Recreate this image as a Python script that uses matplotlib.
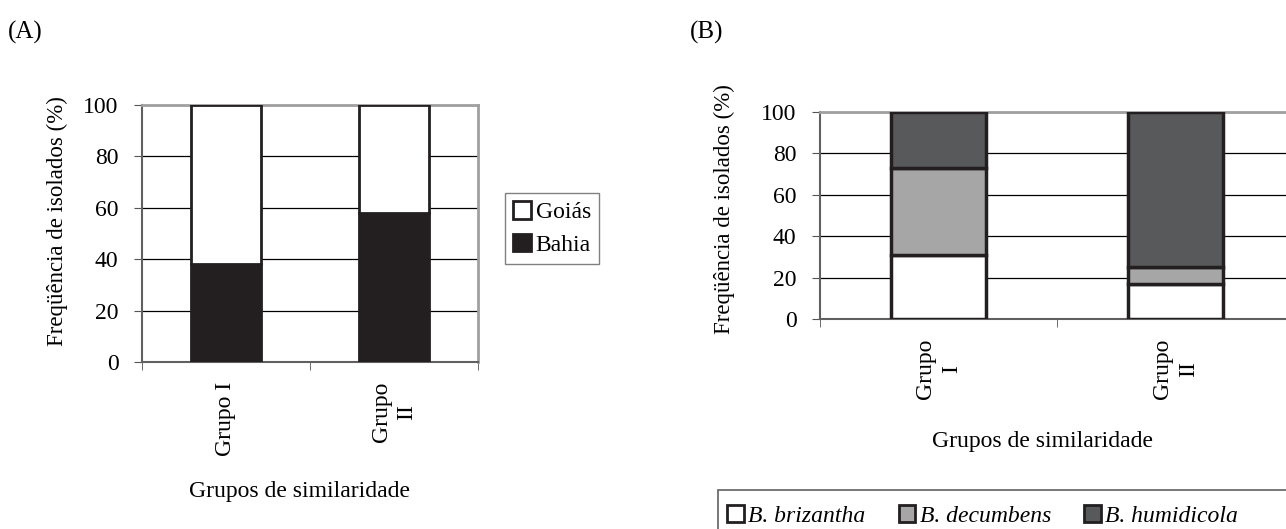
import numpy as np
import matplotlib.pyplot as plt
from matplotlib.patches import Patch, Rectangle

plt.rcParams['font.family'] = ['Liberation Serif', 'DejaVu Serif']
plt.rcParams['font.size'] = 17

# panel A data
groups_a = ['Grupo I', 'Grupo\nII']
bahia = [38, 58]
goias = [62, 42]

# panel B data
groups_b = ['Grupo\nI', 'Grupo\nII']
brizantha = [31, 17]
decumbens = [42, 8]
humidicola = [27, 75]

edge = '#231f20'
W, H = 1286, 529
fig = plt.figure(figsize=(W / 100, H / 100), dpi=100)


def style_axes(ax, n):
    ax.set_xlim(-0.5, n - 0.5)
    ax.set_ylim(0, 100)
    ax.set_yticks(range(0, 101, 20))
    ax.set_xticks(np.arange(n))
    ax.set_xticks(np.arange(-0.5, n, 1.0), minor=True)
    ax.tick_params(axis='x', which='major', length=0, rotation=90, pad=14)
    ax.tick_params(axis='x', which='minor', length=6, direction='out', color='#555555')
    ax.tick_params(axis='y', length=6, direction='out', color='#555555', pad=11)
    ax.yaxis.grid(True, color='black', linewidth=0.9)
    ax.set_axisbelow(True)
    for s in ['top', 'right']:
        ax.spines[s].set_color('#a0a0a0')
        ax.spines[s].set_linewidth(2)
    for s in ['left', 'bottom']:
        ax.spines[s].set_color('#606060')
        ax.spines[s].set_linewidth(1.5)
    ax.set_ylabel('Freqüência de isolados (%)', fontsize=16.5)


# ---- panel A ----
axa = fig.add_axes([142 / W, 1 - 362 / H, 336 / W, 257 / H])
xa = np.arange(len(groups_a))
axa.bar(xa, bahia, width=0.415, color=edge, edgecolor=edge, linewidth=2, zorder=3)
axa.bar(xa, goias, bottom=bahia, width=0.415, color='white', edgecolor=edge,
        linewidth=2, zorder=3)
style_axes(axa, len(groups_a))
axa.set_xticklabels(groups_a, linespacing=1.3)
axa.set_xlabel('Grupos de similaridade')
axa.xaxis.set_label_coords(0.47, (362 - 481) / 257)
axa.yaxis.set_label_coords((68 - 142) / 336, 0.55)
axa.legend(handles=[Patch(facecolor='white', edgecolor=edge, linewidth=2, label='Goiás'),
                    Patch(facecolor=edge, edgecolor=edge, linewidth=2, label='Bahia')],
           loc='upper left', bbox_to_anchor=(505 / W, 1 - 193 / H),
           bbox_transform=fig.transFigure, borderaxespad=0, frameon=True, fancybox=False,
           edgecolor='#606060', handlelength=0.75, handleheight=0.75, handletextpad=0.2,
           labelspacing=0.45, borderpad=0.35, fontsize=17)

# ---- panel B ----
axb = fig.add_axes([820 / W, 1 - 319 / H, 474 / W, 207 / H])
xb = np.arange(len(groups_b))
b1 = np.array(brizantha)
b2 = b1 + np.array(decumbens)
axb.bar(xb, brizantha, width=0.40, color='white', edgecolor=edge, linewidth=2.5, zorder=3)
axb.bar(xb, decumbens, bottom=b1, width=0.40, color='#a6a6a6', edgecolor=edge,
        linewidth=2.5, zorder=3)
axb.bar(xb, humidicola, bottom=b2, width=0.40, color='#58595b', edgecolor=edge,
        linewidth=2.5, zorder=3)
style_axes(axb, len(groups_b))
axb.set_xticklabels(groups_b, linespacing=1.3)
axb.set_xlabel('Grupos de similaridade')
axb.xaxis.set_label_coords((1043 - 820) / 474, (319 - 431) / 207)
axb.yaxis.set_label_coords((735 - 820) / 474, 0.53)

fig.legend(handles=[Patch(facecolor='white', edgecolor=edge, linewidth=2, label='B. brizantha'),
                    Patch(facecolor='#a6a6a6', edgecolor=edge, linewidth=2, label='B. decumbens'),
                    Patch(facecolor='#58595b', edgecolor=edge, linewidth=2, label='B. humidicola')],
           loc='center left', bbox_to_anchor=(727 / W, 1 - 516 / H), borderaxespad=0,
           borderpad=0, ncol=3, frameon=False,
           handlelength=0.7, handleheight=0.7, handletextpad=0.2, columnspacing=1.4,
           prop={'style': 'italic', 'size': 17})
fig.add_artist(Rectangle((718 / W, -0.05), 600 / W, 0.05 + 1 - 490 / H,
                         transform=fig.transFigure, facecolor='none',
                         edgecolor='#606060', linewidth=1.2))

fig.text(8 / W, 1 - 32 / H, '(A)', fontsize=18, va='center')
fig.text(690 / W, 1 - 32 / H, '(B)', fontsize=18, va='center')

fig.savefig('out.png', dpi=100)
